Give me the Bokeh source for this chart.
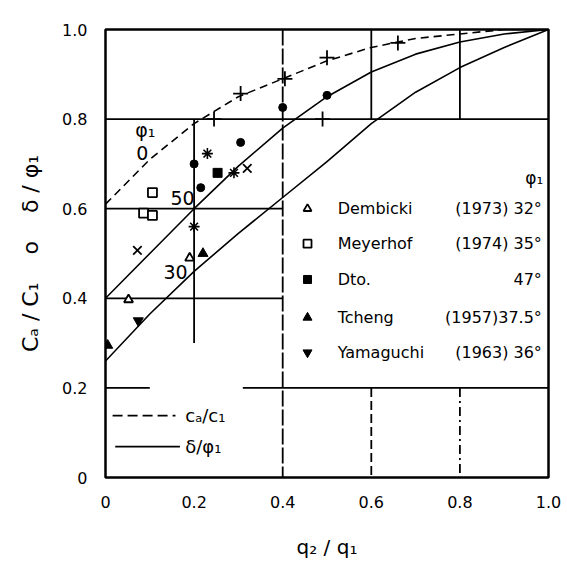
from bokeh.plotting import figure
from bokeh.models import Range1d, FixedTicker
from bokeh.core.properties import value
from bokeh.embed import file_html
from bokeh.resources import INLINE

FONT = "DejaVu Sans"
NB = "\u00a0"

# Design curves over q2/q1
curve_x = [0.0, 0.1, 0.2, 0.3, 0.4, 0.5, 0.6, 0.7, 0.8, 0.9, 1.0]
ca_c1 = [0.61, 0.71, 0.79, 0.85, 0.89, 0.93, 0.96, 0.98, 0.99, 1.0, 1.0]
delta_phi_50 = [0.40, 0.50, 0.60, 0.695, 0.78, 0.85, 0.905, 0.945, 0.972, 0.99, 1.0]
delta_phi_30 = [0.26, 0.365, 0.46, 0.545, 0.625, 0.705, 0.79, 0.86, 0.915, 0.96, 1.0]

# Measured points
plus_x = [0.245, 0.305, 0.405, 0.50, 0.66, 0.49]
plus_y = [0.80, 0.857, 0.89, 0.937, 0.97, 0.80]
dot_x = [0.40, 0.50, 0.305, 0.20, 0.215]
dot_y = [0.826, 0.853, 0.748, 0.70, 0.647]
star_x = [0.23, 0.20, 0.29]
star_y = [0.723, 0.56, 0.68]
cross_x = [0.32, 0.072]
cross_y = [0.69, 0.507]
dembicki_x = [0.052, 0.19]
dembicki_y = [0.397, 0.49]
meyerhof_x = [0.106, 0.086, 0.106]
meyerhof_y = [0.636, 0.59, 0.585]
dto_x = [0.253]
dto_y = [0.68]
tcheng_x = [0.005, 0.22]
tcheng_y = [0.295, 0.50]
yamaguchi_x = [0.074]
yamaguchi_y = [0.35]

# Legend entries
legend_names = ["Dembicki", "Meyerhof", "Dto.", "Tcheng", "Yamaguchi"]
legend_refs = ["(1973) 32°", "(1974) 35°", "47°", "(1957)37.5°", "(1963) 36°"]
legend_rows = [0.60, 0.522, 0.442, 0.357, 0.279]

# Curve labels
curve_labels = ["φ₁", "0", "50", "30"]
curve_label_x = [0.09, 0.083, 0.174, 0.158]
curve_label_y = [0.775, 0.725, 0.623, 0.458]

ticks = [0.0, 0.2, 0.4, 0.6, 0.8, 1.0]

# Chart-paper rulings (x0, y0, x1, y1)
solid_rules = [
    (0.0, 0.8, 1.0, 0.8), (0.0, 0.6, 0.4, 0.6), (0.0, 0.4, 0.4, 0.4),
    (0.0, 0.2, 0.1, 0.2), (0.31, 0.2, 1.0, 0.2),
    (0.2, 0.8, 0.2, 0.3), (0.6, 1.0, 0.6, 0.8), (0.8, 1.0, 0.8, 0.8),
]
long_dash_rules = [(0.4, 1.0, 0.4, 0.0)]
dash_rules = [(0.6, 0.2, 0.6, 0.0)]
dashdot_rules = [(0.8, 0.2, 0.8, 0.0)]

p = figure(width=567, height=563, output_backend="svg", toolbar_location=None,
           x_range=Range1d(0, 1), y_range=Range1d(0, 1),
           min_border_left=105, min_border_right=19, min_border_top=29,
           min_border_bottom=86)
p.grid.visible = False
p.outline_line_color = "black"
p.outline_line_width = 2.5
p.background_fill_color = "white"
p.border_fill_color = "white"

for ax in (p.xaxis[0], p.yaxis[0]):
    ax.ticker = FixedTicker(ticks=ticks)
    ax.major_label_overrides = {0: "0", 0.2: "0.2", 0.4: "0.4", 0.6: "0.6",
                                0.8: "0.8", 1: "1.0"}
    ax.axis_line_color = None
    ax.major_tick_line_color = None
    ax.minor_tick_line_color = None
    ax.major_label_text_font = FONT
    ax.major_label_text_font_size = "16px"
    ax.major_label_text_color = "black"
    ax.axis_label_text_font = FONT
    ax.axis_label_text_font_style = "normal"
    ax.axis_label_text_color = "black"

p.xaxis.axis_label_text_font_size = "20px"
p.yaxis.axis_label_text_font_size = "22px"
p.xaxis.major_label_standoff = 12
p.yaxis.major_label_standoff = 12
p.xaxis.axis_label = "q₂ / q₁"
p.xaxis.axis_label_standoff = 24
p.yaxis.axis_label = f"Cₐ / C₁{NB * 4}o{NB * 4}δ{NB}/{NB}φ₁"
p.yaxis.axis_label_standoff = 16


def rules(segs, dash):
    p.segment(x0=[s[0] for s in segs], y0=[s[1] for s in segs],
              x1=[s[2] for s in segs], y1=[s[3] for s in segs],
              line_color="black", line_width=1.8, line_dash=dash)


rules(solid_rules, "solid")
rules(long_dash_rules, "16 3")
rules(dash_rules, "9 4")
rules(dashdot_rules, "9 4 2 4")

# Curves
p.line(curve_x, ca_c1, line_color="black", line_width=1.6, line_dash="8 5")
p.line(curve_x, delta_phi_50, line_color="black", line_width=1.6)
p.line(curve_x, delta_phi_30, line_color="black", line_width=1.6)

# Points
p.scatter(plus_x, plus_y, marker="cross", size=15, line_color="black", line_width=1.8)
p.scatter(dot_x, dot_y, marker="circle", size=8, color="black")
p.scatter(star_x, star_y, marker="asterisk", size=11, line_color="black", line_width=1.6)
p.scatter(cross_x, cross_y, marker="x", size=12, line_color="black", line_width=1.8)
p.scatter(dembicki_x, dembicki_y, marker="triangle", size=9, line_color="black",
          fill_color="white", line_width=1.8)
p.scatter(meyerhof_x, meyerhof_y, marker="square", size=9, line_color="black",
          fill_color="white", line_width=1.8)
p.scatter(dto_x, dto_y, marker="square", size=9, color="black")
p.scatter(tcheng_x, tcheng_y, marker="triangle", size=10, color="black")
p.scatter(yamaguchi_x, yamaguchi_y, marker="inverted_triangle", size=10, color="black")

# Curve labels
p.text(curve_label_x, curve_label_y, text=curve_labels, text_font=value(FONT),
       text_font_size="19px", text_align="center", text_baseline="middle",
       text_color="black")

# Point legend
lx_marker = [0.456] * 5
p.scatter(lx_marker[0:1], legend_rows[0:1], marker="triangle", size=8,
          line_color="black", fill_color="white", line_width=1.8)
p.scatter(lx_marker[1:2], legend_rows[1:2], marker="square", size=8,
          line_color="black", fill_color="white", line_width=1.8)
p.scatter(lx_marker[2:3], legend_rows[2:3], marker="square", size=8, color="black")
p.scatter(lx_marker[3:4], legend_rows[3:4], marker="triangle", size=9, color="black")
p.scatter(lx_marker[4:5], legend_rows[4:5], marker="inverted_triangle", size=9, color="black")

p.text([0.524] * 5, legend_rows, text=legend_names, text_font=value(FONT),
       text_font_size="16px", text_baseline="middle", text_color="black")
p.text([0.985] * 5, legend_rows, text=legend_refs, text_font=value(FONT),
       text_font_size="16px", text_align="right", text_baseline="middle",
       text_color="black")
p.text([0.968], [0.668], text=["φ₁"], text_font=value(FONT), text_font_size="17px",
       text_align="center", text_baseline="middle", text_color="black")

# Line legend
key_x0 = [0.016, 0.022]
key_x1 = [0.158, 0.168]
key_y = [0.138, 0.069]
p.segment(x0=key_x0[0:1], y0=key_y[0:1], x1=key_x1[0:1], y1=key_y[0:1],
          line_color="black", line_width=1.8, line_dash="10 5")
p.segment(x0=key_x0[1:2], y0=key_y[1:2], x1=key_x1[1:2], y1=key_y[1:2],
          line_color="black", line_width=1.8)
p.text([0.18, 0.18], key_y, text=["cₐ/c₁", "δ/φ₁"], text_font=value(FONT),
       text_font_size="18px", text_baseline="middle", text_color="black")

open("out.html", "w").write(file_html(p, INLINE))
